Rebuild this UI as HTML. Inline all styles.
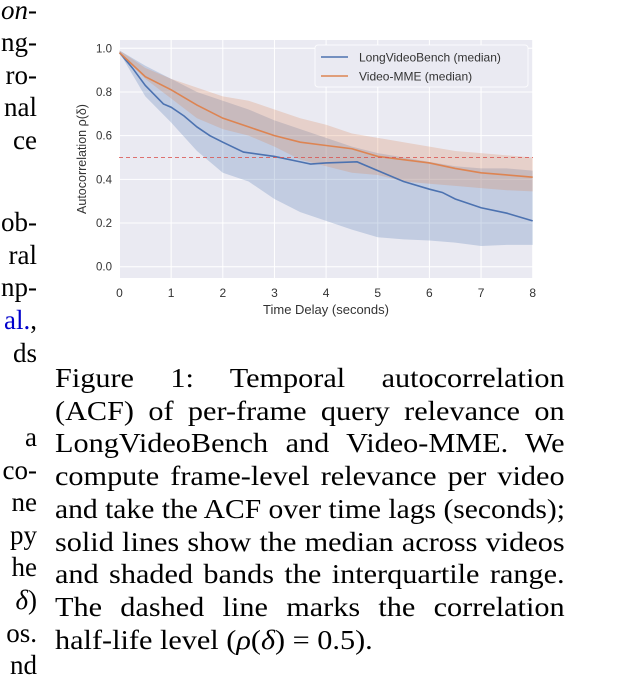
<!DOCTYPE html>
<html><head><meta charset="utf-8">
<style>
body{margin:0;width:626px;height:689px;background:#fff;overflow:hidden;position:relative;font-family:"Liberation Serif",serif}
.lc{position:absolute;right:589px;font-size:27px;line-height:26px;white-space:nowrap;color:#000}
#cap{position:absolute;left:55px;top:362px;width:510px;font-size:27px;line-height:32.7px;color:#000}
.cl{width:455px;white-space:nowrap;text-align:justify;text-align-last:justify;transform-origin:0 50%;transform:scaleX(1.12)}
svg text{font-family:"Liberation Sans",sans-serif}
</style></head><body>
<div>
<div class="lc" style="top:-3px"><i>on</i>-</div>
<div class="lc" style="top:29px">ng-</div>
<div class="lc" style="top:62px">ro-</div>
<div class="lc" style="top:94px">nal</div>
<div class="lc" style="top:127px">ce</div>
<div class="lc" style="top:209px">ob-</div>
<div class="lc" style="top:242px">ral</div>
<div class="lc" style="top:274px">np-</div>
<div class="lc" style="top:307px"><span style="color:#00c">al.</span>,</div>
<div class="lc" style="top:340px">ds</div>
<div class="lc" style="top:424px">a</div>
<div class="lc" style="top:457px">co-</div>
<div class="lc" style="top:489px">ne</div>
<div class="lc" style="top:522px">py</div>
<div class="lc" style="top:554px">he</div>
<div class="lc" style="top:587px"><i>δ</i>)</div>
<div class="lc" style="top:620px">os.</div>
<div class="lc" style="top:652px">nd</div>
</div>
<svg id="chart" width="626" height="330" style="position:absolute;left:0;top:0"></svg>
<div id="cap">
<div class="cl">Figure 1: Temporal autocorrelation</div>
<div class="cl">(ACF) of per-frame query relevance on</div>
<div class="cl">LongVideoBench and Video-MME. We</div>
<div class="cl">compute frame-level relevance per video</div>
<div class="cl">and take the ACF over time lags (seconds);</div>
<div class="cl">solid lines show the median across videos</div>
<div class="cl">and shaded bands the interquartile range.</div>
<div class="cl">The dashed line marks the correlation</div>
<div class="cl" style="text-align-last:left">half-life level (<i>ρ</i>(<i>δ</i>) = 0.5).</div>
</div>
<script>
const lags=[0,0.5,1,1.5,2,2.5,3,3.5,4,4.5,5,5.5,6,6.5,7,7.5,8];
const lvbMedianX=[0,0.25,0.5,0.85,1,1.25,1.5,1.75,2,2.4,3,3.5,3.7,4,4.6,5,5.5,6,6.25,6.5,7,7.5,8];
const lvbMedian=[0.98,0.91,0.83,0.745,0.73,0.69,0.64,0.60,0.57,0.525,0.505,0.48,0.47,0.475,0.48,0.44,0.39,0.355,0.34,0.31,0.27,0.245,0.21];
const lvbUpper=[0.99,0.92,0.86,0.80,0.76,0.72,0.67,0.63,0.59,0.55,0.52,0.50,0.48,0.46,0.45,0.45,0.44];
const lvbLower=[0.98,0.78,0.66,0.53,0.43,0.39,0.31,0.25,0.21,0.17,0.135,0.125,0.12,0.11,0.095,0.10,0.10];
const mmeMedian=[0.98,0.87,0.81,0.74,0.68,0.64,0.60,0.57,0.555,0.54,0.505,0.49,0.475,0.45,0.43,0.42,0.41];
const mmeUpper=[0.99,0.91,0.86,0.82,0.78,0.76,0.72,0.68,0.65,0.61,0.59,0.57,0.55,0.53,0.52,0.51,0.50];
const mmeLower=[0.98,0.86,0.77,0.68,0.63,0.60,0.55,0.49,0.46,0.43,0.42,0.39,0.38,0.37,0.36,0.35,0.345];
const xTicks=[0,1,2,3,4,5,6,7,8];
const yTicks=[0,0.2,0.4,0.6,0.8,1.0];
const halfLife=0.5;
const NS='http://www.w3.org/2000/svg';
const svg=document.getElementById('chart');
const X=v=>119.5+v*(532.7-119.5)/8;
const Y=v=>266.7-v*218.4;
function mk(t,a,p){const e=document.createElementNS(NS,t);for(const k in a)e.setAttribute(k,a[k]);(p||svg).appendChild(e);return e;}
let bg=mk('rect',{x:119,y:40,width:414,height:238,fill:'#eaeaf2'});


xTicks.forEach(t=>{
 let l=mk('line',{x1:X(t),x2:X(t),y1:40,y2:278,stroke:'#fff','stroke-width':1});
 
 
 let tx=mk('text',{x:X(t),y:297,'font-size':12,fill:'#333','text-anchor':'middle'});
 tx.textContent=t;
 
 
});
yTicks.forEach(t=>{
 let l=mk('line',{x1:119,x2:533,y1:Y(t),y2:Y(t),stroke:'#fff','stroke-width':1});
 
 
 let tx=mk('text',{x:112,y:Y(t)+4,'font-size':11.5,fill:'#333','text-anchor':'end'});
 tx.textContent=t.toFixed(1);
 
 
});
function band(up,lo,col,name){
 let d='M'+lags.map((x,i)=>X(x)+','+Y(up[i])).join('L');
 for(let i=lags.length-1;i>=0;i--)d+='L'+X(lags[i])+','+Y(lo[i]);
 let p=mk('path',{d:d+'Z',fill:col,'fill-opacity':0.25});
 
 
}
function line(xs,ys,col,name){
 let p=mk('path',{d:'M'+xs.map((x,i)=>X(x)+','+Y(ys[i])).join('L'),fill:'none',stroke:col,'stroke-width':1.6});
 
 
}
band(lvbUpper,lvbLower,'#4c72b0','longvideobench-iqr-band');
band(mmeUpper,mmeLower,'#dd8452','videomme-iqr-band');
line(lvbMedianX,lvbMedian,'#4c72b0','longvideobench-median-line');
line(lags,mmeMedian,'#dd8452','videomme-median-line');
let hl=mk('line',{x1:119,x2:533,y1:Y(halfLife),y2:Y(halfLife),stroke:'#d9534f','stroke-width':1,'stroke-dasharray':'4,3','stroke-opacity':0.8});


let lg=mk('g',{});


mk('rect',{x:315,y:45,width:213,height:42,fill:'#eaeaf2',stroke:'#fff','stroke-opacity':0.8,rx:3},lg);
[['LongVideoBench (median)','#4c72b0',57],['Video-MME (median)','#dd8452',76]].forEach(e=>{
 let g=mk('g',{},lg);
 
 
 mk('line',{x1:321,x2:348,y1:e[2],y2:e[2],stroke:e[1],'stroke-width':1.6},g);
 let t=mk('text',{x:359,y:e[2]+4.5,'font-size':12,fill:'#333'},g);t.textContent=e[0];
});
let xt=mk('text',{x:326,y:314,'font-size':13,fill:'#333','text-anchor':'middle'});
xt.textContent='Time Delay (seconds)';


let yt=mk('text',{x:0,y:0,'font-size':12.5,fill:'#333','text-anchor':'middle',transform:'translate(86,159) rotate(-90)'});
yt.textContent='Autocorrelation ρ(δ)';


document.querySelectorAll('.cl').forEach(d=>{
 const r=document.createRange();r.selectNodeContents(d);
 const w=r.getBoundingClientRect().width/1.12;
 if(w>455){d.style.transform='scaleX('+(510/w)+')';d.style.width=w+'px';}
});
</script>
</body></html>
